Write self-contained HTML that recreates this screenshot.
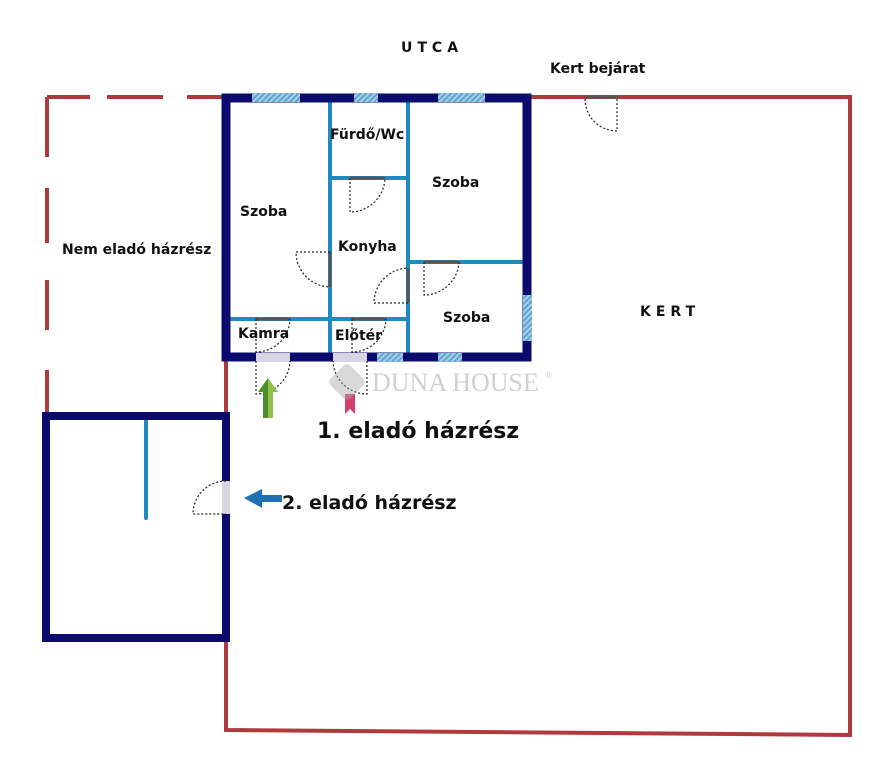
<!DOCTYPE html>
<html><head><meta charset="utf-8"><style>
html,body{margin:0;padding:0;background:#fff;}
svg{display:block;}
text{font-family:"DejaVu Sans","Liberation Sans",sans-serif;font-weight:bold;fill:#111;}
</style></head><body>
<svg width="880" height="768" viewBox="0 0 880 768" xmlns="http://www.w3.org/2000/svg">
<defs>
<pattern id="h" width="4" height="4" patternUnits="userSpaceOnUse" patternTransform="rotate(45)">
<rect width="4" height="4" fill="#a8cfe6"/><rect width="2" height="4" fill="#5fa4cf"/>
</pattern>
</defs>
<g stroke="#b0393d" stroke-width="4" fill="none">
<path d="M47 97H90M107 97H163M187 97H222"/>
<path d="M47 97V157M47 188V243M47 280V330M47 370V412"/>
<path d="M531 97H850V735L226 730V360"/>
</g>
<g stroke="#1f8ac0" stroke-width="4" fill="none">
<path d="M330 98V356M408 98V356M330 178H408M408 262H527M226 319H408"/>
<path d="M146 420V518" stroke-linecap="round"/>
</g>
<rect x="226" y="98" width="301" height="259" fill="none" stroke="#0b0b6e" stroke-width="9"/>
<rect x="252" y="93" width="48" height="9" fill="url(#h)"/>
<rect x="354" y="93" width="24" height="9" fill="url(#h)"/>
<rect x="438" y="93" width="47" height="9" fill="url(#h)"/>
<rect x="377" y="353" width="26" height="9" fill="url(#h)"/>
<rect x="438" y="353" width="24" height="9" fill="url(#h)"/>
<rect x="523" y="295" width="9" height="46" fill="url(#h)"/>
<rect x="256" y="353" width="34" height="9" fill="#d8d4e0"/>
<rect x="333" y="353" width="34" height="9" fill="#d8d4e0"/>
<rect x="46" y="416" width="180" height="222" fill="none" stroke="#0b0b6e" stroke-width="8"/>
<rect x="222" y="481" width="8" height="33" fill="#d8d4e0"/>
<g stroke="#555" stroke-width="3" fill="none">
<path d="M585 97H617M350 178H385M330 252V287M408 268V303M424 262H459M256 319H290M352 319H386"/>
</g>
<g stroke="#222" stroke-width="1.2" stroke-dasharray="2,2" fill="none">
<path d="M585 99A32 32 0 0 0 617 131V99"/>
<path d="M350 178V212A35 35 0 0 0 385 178"/>
<path d="M330 252H296A35 35 0 0 0 330 287"/>
<path d="M408 303H374A35 35 0 0 1 408 268"/>
<path d="M424 262V295A35 35 0 0 0 459 262"/>
<path d="M256 319V352A34 34 0 0 0 290 319"/>
<path d="M352 319V352A34 34 0 0 0 386 319"/>
<path d="M256 361V394A34 34 0 0 0 290 361"/>
<path d="M367 361V394A34 34 0 0 1 333 361"/>
<path d="M226 481A33 33 0 0 0 193 514H226"/>
</g>
<path d="M268 378L278 392H273V418H263V392H258Z" fill="#4d8f2a"/>
<path d="M268 378L278 392H273V418H268Z" fill="#8fc04a"/>
<path d="M345 394h10v20l-5-5l-5 5z" fill="#d33f6a"/>
<path d="M244 498L262 489V495H282V502H262V508Z" fill="#1f6fb4"/>
<g opacity="0.45">
<rect x="333" y="368" width="28" height="28" rx="5" transform="rotate(45 347 382)" fill="#aaa"/>
<text x="372" y="391" style="font-family:'Liberation Serif',serif;font-weight:normal;fill:#999;font-size:26px">DUNA HOUSE</text>
<text x="544" y="378" style="font-weight:normal;fill:#999;font-size:9px">®</text>
</g>
<text x="401" y="52" font-size="14" letter-spacing="5">UTCA</text>
<text x="550" y="73" font-size="14">Kert bejárat</text>
<text x="62" y="254" font-size="14">Nem eladó házrész</text>
<text x="640" y="316" font-size="14" letter-spacing="5">KERT</text>
<text x="330" y="139" font-size="14">Fürdő/Wc</text>
<text x="432" y="187" font-size="14">Szoba</text>
<text x="240" y="216" font-size="14">Szoba</text>
<text x="338" y="251" font-size="14">Konyha</text>
<text x="443" y="322" font-size="14">Szoba</text>
<text x="238" y="338" font-size="14">Kamra</text>
<text x="335" y="340" font-size="14">Előtér</text>
<text x="317" y="438" font-size="22">1. eladó házrész</text>
<text x="282" y="509" font-size="19">2. eladó házrész</text>
</svg>
</body></html>
